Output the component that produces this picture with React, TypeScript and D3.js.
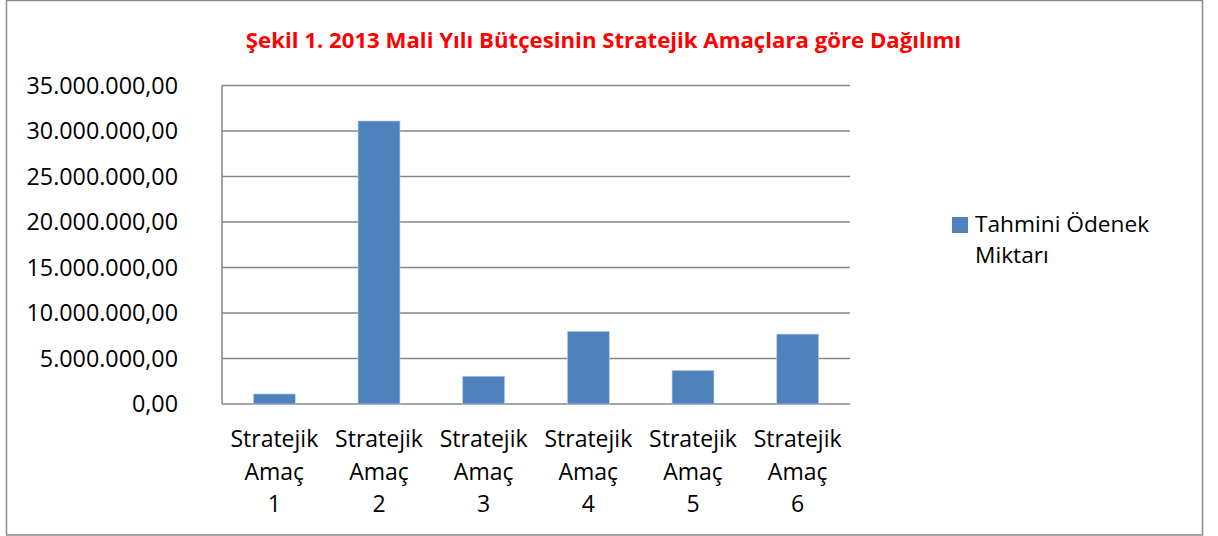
import React from "react";
import * as d3 from "d3";

const categories: string[] = ["1", "2", "3", "4", "5", "6"];
const values: number[] = [1100000, 31100000, 3050000, 7970000, 3680000, 7680000];
const yTicks: number[] = [0, 5000000, 10000000, 15000000, 20000000, 25000000, 30000000, 35000000];
const seriesName = ["Tahmini Ödenek", "Miktarı"];
const title = "Şekil 1. 2013 Mali Yılı Bütçesinin Stratejik Amaçlara göre Dağılımı";

const W = 1218;
const H = 536;
const plot = { left: 222, right: 850, top: 85.5, bottom: 404 };
const font = "'Open Sans', sans-serif";

const fmt = (v: number) => {
  const s = d3.format(",.2f")(v);
  return s.replace(/,/g, "#").replace(".", ",").replace(/#/g, ".");
};

export default function App() {
  const x = d3
    .scaleBand<string>()
    .domain(categories)
    .range([plot.left, plot.right])
    .paddingInner(0.6)
    .paddingOuter(0.3);
  const y = d3.scaleLinear().domain([0, 35000000]).range([plot.bottom, plot.top]);
  const grid = "#868686";

  return (
    <svg width={W} height={H} style={{ position: "absolute", left: 0, top: 0, background: "#fff" }}>
      <rect x={6.5} y={0.5} width={1196} height={534.5} fill="#fff" stroke="#8a8a8a" strokeWidth={1.5} />
      <text x={603.5} y={48} textAnchor="middle" fill="#ff0000" fontWeight="bold" fontFamily={font} fontSize={22.2}>
        {title}
      </text>
      {yTicks.map((t) => (
        <g key={t}>
          <line x1={plot.left} x2={plot.right} y1={y(t)} y2={y(t)} stroke={grid} strokeWidth={1.5} />
          <text x={178} y={y(t)} dy="0.36em" textAnchor="end" fontFamily={font} fontSize={23.3} fill="#000">
            {fmt(t)}
          </text>
        </g>
      ))}
      <line x1={plot.left} x2={plot.left} y1={plot.top} y2={plot.bottom} stroke={grid} strokeWidth={1.5} />
      {categories.map((c, i) => (
        <rect
          key={c}
          x={x(c)!}
          y={y(values[i])}
          width={x.bandwidth()}
          height={plot.bottom - y(values[i])}
          fill="#4f81bd"
          stroke="#b9cde5"
          strokeWidth={0.6}
        />
      ))}
      {categories.map((c) => {
        const cx = x(c)! + x.bandwidth() / 2;
        return (
          <text key={c} textAnchor="middle" fontFamily={font} fontSize={23} fill="#000">
            <tspan x={cx} y={446.5}>Stratejik</tspan>
            <tspan x={cx} y={479.5}>Amaç</tspan>
            <tspan x={cx} y={512}>{c}</tspan>
          </text>
        );
      })}
      <rect x={952} y={217} width={16} height={16} fill="#4f81bd" />
      <text fontFamily={font} fontSize={22.7} fill="#000">
        <tspan x={975} y={232}>{seriesName[0]}</tspan>
        <tspan x={975} y={263}>{seriesName[1]}</tspan>
      </text>
    </svg>
  );
}
